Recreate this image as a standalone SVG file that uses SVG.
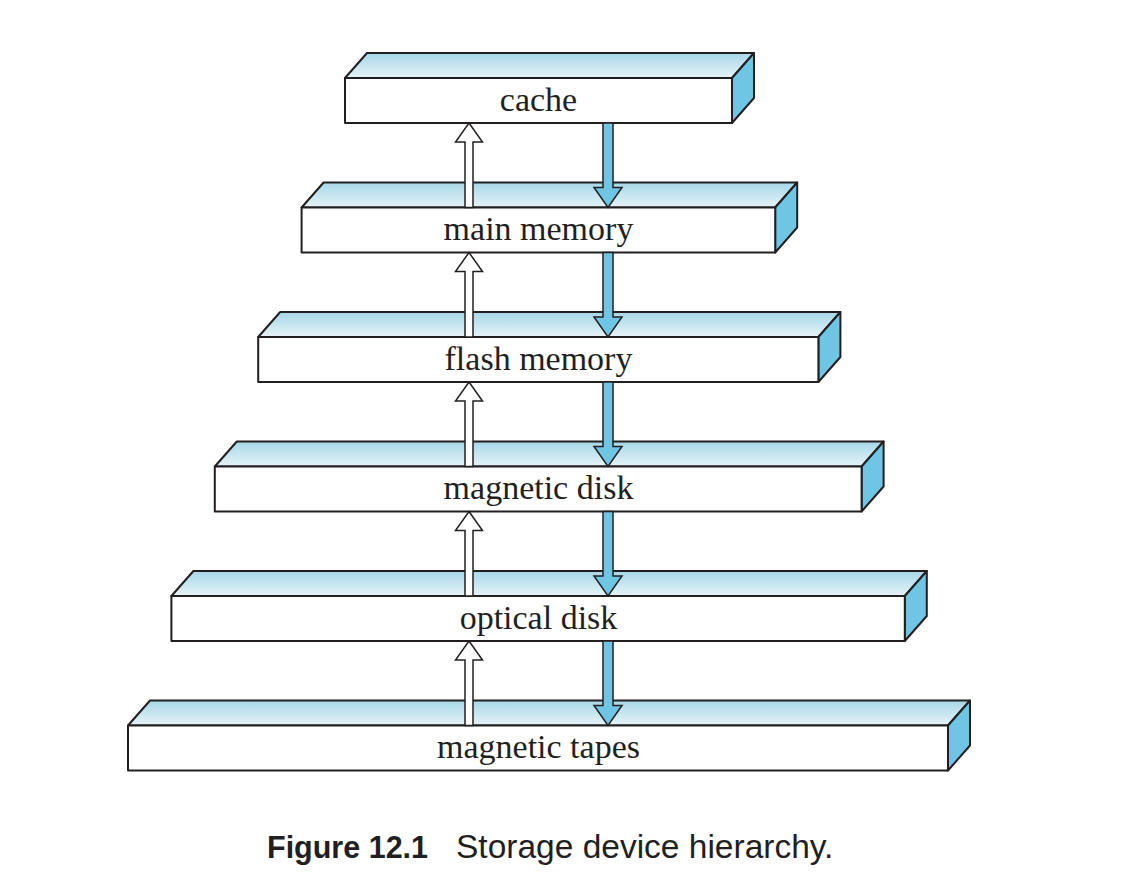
<svg xmlns="http://www.w3.org/2000/svg" width="1138" height="886" viewBox="0 0 1138 886">
  <defs>
    <linearGradient id="topFace" x1="0" y1="0" x2="0" y2="1">
      <stop offset="0" stop-color="#a6d7e8"/>
      <stop offset="1" stop-color="#e6f3f7"/>
    </linearGradient>
  </defs>
  <style>
    .front { fill: #ffffff; stroke: #231f20; stroke-width: 2; stroke-linejoin: round; }
    .top { fill: url(#topFace); stroke: #231f20; stroke-width: 2; stroke-linejoin: round; }
    .side { fill: #6ec6e4; stroke: #231f20; stroke-width: 2; stroke-linejoin: round; }
    .label { font-family: "Liberation Serif", "Times New Roman", serif; font-size: 34px; fill: #231f20; text-anchor: middle; }
    .up { fill: #ffffff; stroke: #231f20; stroke-width: 1.5; stroke-linejoin: miter; }
    .down { fill: #6ec6e4; stroke: #231f20; stroke-width: 1.5; stroke-linejoin: miter; }
    .cap-b { font-family: "Liberation Sans", Arial, sans-serif; font-size: 30.5px; font-weight: bold; fill: #231f20; }
    .cap { font-family: "Liberation Sans", Arial, sans-serif; font-size: 33.5px; fill: #231f20; }
  </style>

  <!-- storage levels: front face, top face, side face, label -->
  <g id="cache">
    <polygon class="top" points="345,78 367,53 754,53 732,78"/>
    <polygon class="side" points="732,78 754,53 754,98 732,123"/>
    <rect class="front" x="345" y="78" width="387" height="45"/>
    <text class="label" x="538.5" y="110.5">cache</text>
  </g>
  <g id="main-memory">
    <polygon class="top" points="301.6,207.5 323.6,182.5 797.2,182.5 775.2,207.5"/>
    <polygon class="side" points="775.2,207.5 797.2,182.5 797.2,227.5 775.2,252.5"/>
    <rect class="front" x="301.6" y="207.5" width="473.6" height="45"/>
    <text class="label" x="538.5" y="240">main memory</text>
  </g>
  <g id="flash-memory">
    <polygon class="top" points="258.2,337 280.2,312 840.4,312 818.4,337"/>
    <polygon class="side" points="818.4,337 840.4,312 840.4,357 818.4,382"/>
    <rect class="front" x="258.2" y="337" width="560.2" height="45"/>
    <text class="label" x="538.5" y="369.5">flash memory</text>
  </g>
  <g id="magnetic-disk">
    <polygon class="top" points="214.8,466.5 236.8,441.5 883.6,441.5 861.6,466.5"/>
    <polygon class="side" points="861.6,466.5 883.6,441.5 883.6,486.5 861.6,511.5"/>
    <rect class="front" x="214.8" y="466.5" width="646.8" height="45"/>
    <text class="label" x="538.5" y="499">magnetic disk</text>
  </g>
  <g id="optical-disk">
    <polygon class="top" points="171.4,596 193.4,571 926.8,571 904.8,596"/>
    <polygon class="side" points="904.8,596 926.8,571 926.8,616 904.8,641"/>
    <rect class="front" x="171.4" y="596" width="733.4" height="45"/>
    <text class="label" x="538.5" y="628.5">optical disk</text>
  </g>
  <g id="magnetic-tapes">
    <polygon class="top" points="128,725.5 150,700.5 970,700.5 948,725.5"/>
    <polygon class="side" points="948,725.5 970,700.5 970,745.5 948,770.5"/>
    <rect class="front" x="128" y="725.5" width="820" height="45"/>
    <text class="label" x="538.5" y="758">magnetic tapes</text>
  </g>

  <!-- transfers between adjacent levels: white = up, blue = down -->
  <g id="connectors">
    <polygon class="up" points="469,123 482.5,142 473,142 473,207.5 465,207.5 465,142 455.5,142"/>
    <polygon class="down" points="603,123 613,123 613,187.5 622,187.5 608,207.5 594,187.5 603,187.5"/>

    <polygon class="up" points="469,252.5 482.5,271.5 473,271.5 473,337 465,337 465,271.5 455.5,271.5"/>
    <polygon class="down" points="603,252.5 613,252.5 613,317 622,317 608,337 594,317 603,317"/>

    <polygon class="up" points="469,382 482.5,401 473,401 473,466.5 465,466.5 465,401 455.5,401"/>
    <polygon class="down" points="603,382 613,382 613,446.5 622,446.5 608,466.5 594,446.5 603,446.5"/>

    <polygon class="up" points="469,511.5 482.5,530.5 473,530.5 473,596 465,596 465,530.5 455.5,530.5"/>
    <polygon class="down" points="603,511.5 613,511.5 613,576 622,576 608,596 594,576 603,576"/>

    <polygon class="up" points="469,641 482.5,660 473,660 473,725.5 465,725.5 465,660 455.5,660"/>
    <polygon class="down" points="603,641 613,641 613,705.5 622,705.5 608,725.5 594,705.5 603,705.5"/>
  </g>

  <!-- caption -->
  <g id="caption">
    <text class="cap-b" x="267" y="858">Figure 12.1</text>
    <text class="cap" x="456" y="858">Storage device hierarchy.</text>
  </g>
</svg>
